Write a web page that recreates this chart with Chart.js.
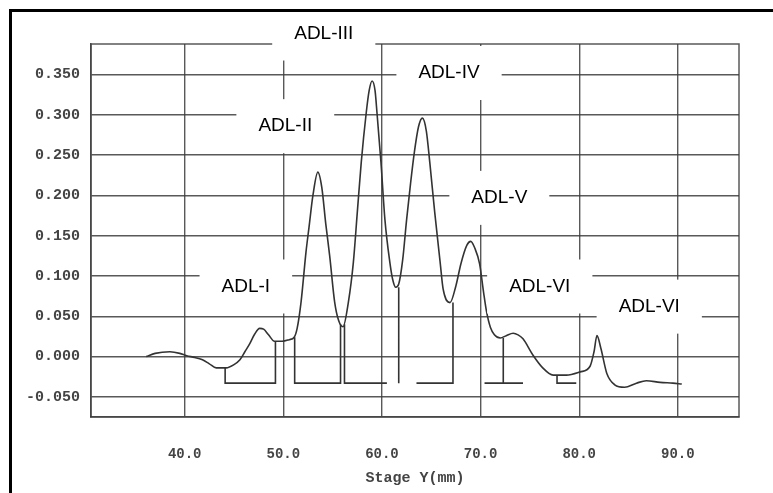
<!DOCTYPE html>
<html>
<head>
<meta charset="utf-8">
<script src="https://cdn.jsdelivr.net/npm/chart.js@4"></script>
<style>
    body { margin: 0; background: #fff; }
    canvas { display: block; }
</style>
</head>
<body>
<canvas id="densitogram" width="773" height="493"></canvas>
<script>
// scan trace: stage position (mm) and signal
const stageY = [36.1, 37.0, 38.5, 39.5, 40.2, 41.0, 41.8, 42.5, 43.2, 44.2, 45.0, 45.6, 46.1, 46.6, 47.1, 47.6,
    48.0, 48.5, 49.1, 49.9, 50.6, 51.1, 51.4, 51.8, 52.3, 52.6, 53.0, 53.5, 53.9, 54.3, 54.7, 55.2, 55.6, 56.05,
    56.6, 57.1, 57.5, 57.9, 58.4, 58.7, 59.0, 59.3, 59.5, 59.9, 60.3, 60.8, 61.1, 61.4, 61.7, 62.1, 62.5, 62.9,
    63.3, 63.7, 64.1, 64.5, 64.85, 65.35, 65.9, 66.2, 66.9, 67.5, 68.0, 68.6, 69.0, 69.4, 69.9, 70.3, 70.6, 71.0,
    71.4, 72.0, 72.6, 73.3, 73.8, 74.3, 75.3, 76.3, 77.35, 78.7, 80.1, 81.1, 81.5, 81.8, 82.2, 82.8, 83.6, 84.6,
    85.8, 86.8, 88.2, 89.5, 90.4];
const signal = [0.000, 0.004, 0.006, 0.004, 0.001, -0.001, -0.004, -0.009, -0.014, -0.014, -0.010, -0.004, 0.006, 0.016, 0.028, 0.035,
    0.034, 0.027, 0.019, 0.019, 0.021, 0.024, 0.035, 0.068, 0.130, 0.160, 0.200, 0.229, 0.210, 0.165, 0.125, 0.068, 0.045, 0.037,
    0.068, 0.117, 0.179, 0.241, 0.302, 0.330, 0.342, 0.330, 0.302, 0.241, 0.170, 0.117, 0.095, 0.086, 0.090, 0.120, 0.170, 0.215,
    0.255, 0.285, 0.296, 0.280, 0.241, 0.179, 0.117, 0.084, 0.067, 0.088, 0.115, 0.138, 0.143, 0.135, 0.115, 0.080, 0.056, 0.036,
    0.027, 0.023, 0.026, 0.029, 0.027, 0.022, 0.002, -0.014, -0.023, -0.023, -0.019, -0.012, 0.006, 0.026, 0.010, -0.021, -0.035, -0.038,
    -0.033, -0.030, -0.032, -0.033, -0.034];

// integration marks (drop lines + baseline), null = pen up
const markX = [44.1, 44.1, 49.2, 49.2, 49.2, 51.15, 51.15, 55.8, 55.8, 55.8, 56.2, 56.2, 60.5, 60.5, 61.7, 61.7, 61.7,
    63.5, 67.2, 67.2, 67.2, 70.4, 74.3, 74.3, 72.3, 72.3, 72.3, 77.75, 77.75, 79.7];
const markY = [-0.014, -0.033, -0.033, 0.019, null, 0.024, -0.033, -0.033, 0.040, null, 0.040, -0.033, -0.033, null, 0.086, -0.033, null,
    -0.033, -0.033, 0.067, null, -0.033, -0.033, null, 0.023, -0.033, null, -0.023, -0.033, -0.033];

const xTicks = [40, 50, 60, 70, 80, 90];
const yTicks = [-0.05, 0, 0.05, 0.1, 0.15, 0.2, 0.25, 0.3, 0.35];

// peak names and where they sit (data units)
const peakNames = ['ADL-III', 'ADL-IV', 'ADL-II', 'ADL-V', 'ADL-I', 'ADL-VI', 'ADL-VI'];
const peakNameX = [54.1, 66.8, 50.2, 71.9, 46.2, 76.0, 87.1];
const peakNameY = [0.401, 0.352, 0.286, 0.197, 0.087, 0.087, 0.062];

const gridColor = 'rgba(60, 60, 60, 0.85)';
const tickFont = { family: '"Liberation Mono", "DejaVu Sans Mono", monospace', weight: 'bold' };

const pagePlugin = {
    id: 'page',
    beforeDraw(chart) {
        const c = chart.ctx;
        c.save();
        c.fillStyle = '#fff';
        c.fillRect(0, 0, chart.width, chart.height);
        c.restore();
    },
    afterDatasetsDraw(chart) {
        const c = chart.ctx;
        const a = chart.chartArea;
        c.save();
        c.strokeStyle = gridColor;
        c.lineWidth = 1.5;
        c.strokeRect(a.left, a.top, a.right - a.left, a.bottom - a.top);
        c.restore();
    },
    afterDraw(chart) {
        const c = chart.ctx;
        const xs = chart.scales.x, ys = chart.scales.y;
        c.save();
        c.font = '19px "Liberation Sans", Arial, sans-serif';
        c.textAlign = 'center';
        c.textBaseline = 'middle';
        peakNames.forEach((name, i) => {
            const px = xs.getPixelForValue(peakNameX[i]);
            const py = ys.getPixelForValue(peakNameY[i]);
            const w = c.measureText(name).width + 44;
            c.fillStyle = '#fff';
            c.fillRect(px - w / 2, py - 27, w, 54);
            c.fillStyle = '#000';
            c.fillText(name, px, py);
        });
        // black frame of the figure, left and top
        c.fillStyle = '#000';
        c.fillRect(9, 9, 3, chart.height - 9);
        c.fillRect(9, 9, chart.width - 9, 3);
        c.restore();
    }
};

new Chart(document.getElementById('densitogram'), {
    type: 'line',
    data: {
        datasets: [{
            data: stageY.map((x, i) => ({ x: x, y: signal[i] })),
            borderColor: '#333',
            borderWidth: 1.6,
            pointRadius: 0,
            cubicInterpolationMode: 'monotone',
            fill: false
        }, {
            data: markX.map((x, i) => ({ x: x, y: markY[i] })),
            borderColor: '#333',
            borderWidth: 1.6,
            pointRadius: 0,
            tension: 0,
            spanGaps: false,
            fill: false
        }]
    },
    options: {
        responsive: false,
        devicePixelRatio: 1,
        animation: false,
        events: [],
        layout: { padding: { top: 44, right: 34, bottom: 0, left: 0 } },
        plugins: { legend: { display: false }, tooltip: { enabled: false } },
        scales: {
            x: {
                type: 'linear',
                min: 30.5,
                max: 96.2,
                afterBuildTicks: axis => { axis.ticks = xTicks.map(v => ({ value: v })); },
                afterFit: axis => { axis.height = 76; },
                grid: { color: gridColor, lineWidth: 1.4, drawTicks: false },
                border: { color: gridColor, width: 1.5 },
                ticks: {
                    padding: 29,
                    color: '#444',
                    font: { ...tickFont, size: 14 },
                    callback: v => v.toFixed(1)
                },
                title: {
                    display: true,
                    text: 'Stage Y(mm)',
                    color: '#444',
                    font: { ...tickFont, size: 15 },
                    padding: { top: 0, bottom: 6 }
                }
            },
            y: {
                min: -0.075,
                max: 0.388,
                afterBuildTicks: axis => { axis.ticks = yTicks.map(v => ({ value: v })); },
                afterFit: axis => { axis.width = 91; },
                grid: { color: gridColor, lineWidth: 1.4, drawTicks: false },
                border: { color: gridColor, width: 1.5 },
                ticks: {
                    padding: 11,
                    color: '#444',
                    font: { ...tickFont, size: 15 },
                    callback: v => v.toFixed(3)
                }
            }
        }
    },
    plugins: [pagePlugin]
});
</script>
</body>
</html>
